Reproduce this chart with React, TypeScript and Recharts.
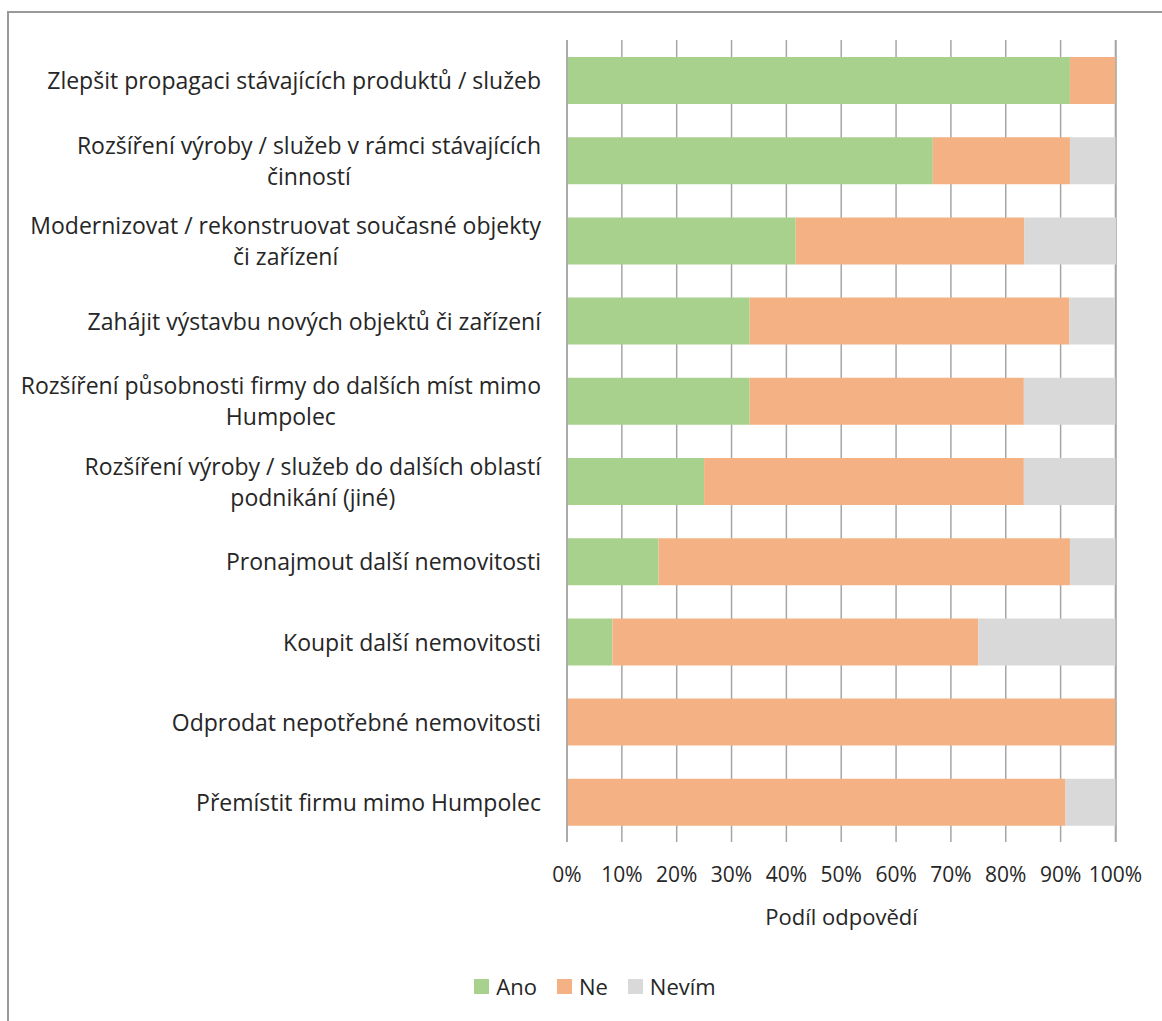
import React from 'react';
import { BarChart, Bar, XAxis, YAxis, CartesianGrid, Legend } from 'recharts';

// Categories (line breaks as they wrap in the original chart)
const categories = [
    'Zlepšit propagaci stávajících produktů / služeb',
    'Rozšíření výroby / služeb v rámci stávajících\nčinností',
    'Modernizovat / rekonstruovat současné objekty\nči zařízení',
    'Zahájit výstavbu nových objektů či zařízení',
    'Rozšíření působnosti firmy do dalších míst mimo\nHumpolec',
    'Rozšíření výroby / služeb do dalších oblastí\npodnikání (jiné)',
    'Pronajmout další nemovitosti',
    'Koupit další nemovitosti',
    'Odprodat nepotřebné nemovitosti',
    'Přemístit firmu mimo Humpolec',
];

// Shares in percent
const ano = [91.7, 66.7, 41.7, 33.3, 33.3, 25, 16.7, 8.3, 0, 0];
const ne = [8.3, 25, 41.7, 58.3, 50, 58.3, 75, 66.7, 100, 90.9];
const nevim = [0, 8.3, 16.7, 8.3, 16.7, 16.7, 8.3, 25, 0, 9.1];

const xTicks = [0, 10, 20, 30, 40, 50, 60, 70, 80, 90, 100];

const SERIES = [
    { key: 'ano', name: 'Ano', color: '#A9D18E' },
    { key: 'ne', name: 'Ne', color: '#F4B183' },
    { key: 'nevim', name: 'Nevím', color: '#D9D9D9' },
];

const FONT = '"Open Sans", Lato, sans-serif';
const FONT_SIZE = 21;
const CAT_FONT_SIZE = 23;
const TEXT_COLOR = '#262626';

const data = categories.map((name, i) => ({
    name,
    ano: ano[i],
    ne: ne[i],
    nevim: nevim[i],
}));

let measureCtx: CanvasRenderingContext2D | null = null;
const measure = (s: string) => {
    if (!measureCtx) {
        const c = document.createElement('canvas');
        measureCtx = c.getContext('2d');
    }
    if (!measureCtx) return s.length * CAT_FONT_SIZE * 0.5;
    measureCtx.font = `${CAT_FONT_SIZE}px "Open Sans"`;
    return measureCtx.measureText(s).width;
};

// Wrapped category label: block right aligned, lines centred (like Excel)
const CategoryTick = (props: any) => {
    const { x, y, payload } = props;
    const lines: string[] = String(payload.value).split('\n');
    const maxW = Math.max(...lines.map(measure));
    const cx = x - maxW / 2;
    const lh = 31;
    return (
        <g>
            {lines.map((l, i) => (
                <text
                    key={i}
                    x={cx}
                    y={y + (i - (lines.length - 1) / 2) * lh}
                    textAnchor="middle"
                    dominantBaseline="central"
                    fontFamily={FONT}
                    fontSize={CAT_FONT_SIZE}
                    fill={TEXT_COLOR}
                >
                    {l}
                </text>
            ))}
        </g>
    );
};

const LegendContent = () => (
    <div style={{ display: 'flex', justifyContent: 'center', paddingTop: 10, paddingLeft: 94, height: 50, fontFamily: FONT, fontSize: 22, color: TEXT_COLOR }}>
        {SERIES.map(s => (
            <div key={s.key} style={{ display: 'flex', alignItems: 'center', marginRight: 20, height: 30 }}>
                <span style={{ width: 15, height: 15, background: s.color, display: 'inline-block', marginRight: 7 }} />
                <span>{s.name}</span>
            </div>
        ))}
    </div>
);

const App: React.FC = () => {
    return (
        <div style={{ position: 'absolute', left: 0, top: 0, width: 1162, height: 1021, overflow: 'hidden', background: '#fff' }}>
            <div style={{ position: 'absolute', left: 7, top: 11, width: 1200, height: 1100, border: '2px solid #999', boxSizing: 'border-box' }} />
            <div style={{ position: 'absolute', left: 0, top: 0 }}>
                <BarChart
                    width={1162}
                    height={1021}
                    data={data}
                    layout="vertical"
                    margin={{ top: 40, right: 46, left: 0, bottom: 0 }}
                    barSize={47}
                >
                    <CartesianGrid horizontal={false} vertical={true} stroke="#A6A6A6" strokeWidth={1.5} />
                    <XAxis
                        type="number"
                        domain={[0, 100]}
                        ticks={xTicks}
                        tickFormatter={(v: number) => `${v}%`}
                        axisLine={false}
                        tickLine={false}
                        tickSize={0}
                        tickMargin={25}
                        height={119}
                        interval={0}
                        tick={{ fontFamily: FONT, fontSize: FONT_SIZE, fill: TEXT_COLOR }}
                        label={{ value: 'Podíl odpovědí', position: 'insideBottom', offset: 36, fontFamily: FONT, fontSize: 22, fill: TEXT_COLOR }}
                    />
                    <YAxis
                        type="category"
                        dataKey="name"
                        width={567}
                        axisLine={{ stroke: '#A6A6A6', strokeWidth: 1.5 }}
                        tickLine={false}
                        tickSize={0}
                        tickMargin={26}
                        interval={0}
                        tick={<CategoryTick />}
                    />
                    <Legend verticalAlign="bottom" content={<LegendContent />} />
                    {SERIES.map(s => (
                        <Bar key={s.key} dataKey={s.key} name={s.name} stackId="a" fill={s.color} isAnimationActive={false} />
                    ))}
                </BarChart>
            </div>
        </div>
    );
};

export default App;
